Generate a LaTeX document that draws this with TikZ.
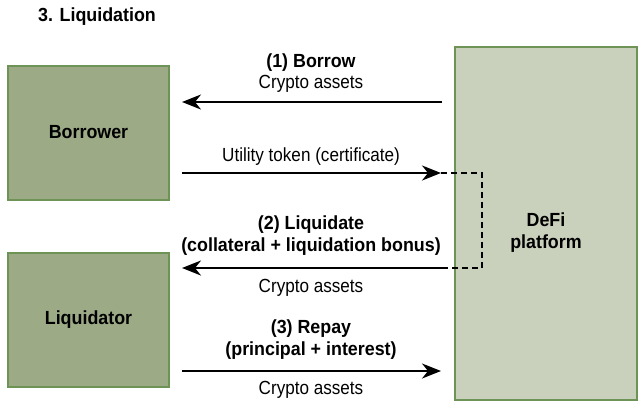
\documentclass[tikz,border=0pt]{standalone}
\usepackage{fontspec}
\setmainfont{Liberation Sans}[FakeStretch=0.9,BoldFeatures={FakeStretch=0.94}]
\usetikzlibrary{arrows.meta}
\definecolor{boxdark}{RGB}{156,170,134}
\definecolor{boxlight}{RGB}{201,209,188}
\definecolor{boxline}{RGB}{109,147,86}
\tikzset{
  party/.style={draw=boxline,line width=1.2pt,fill=boxdark},
  platform/.style={draw=boxline,line width=1.2pt,fill=boxlight},
  flow/.style={line width=2pt,-{Stealth[length=19pt,width=15pt,inset=6pt]}},
  lbl/.style={inner sep=0pt,align=center},
  blbl/.style={lbl,font=\fontsize{19}{22}\selectfont\bfseries},
}
\begin{document}
\begin{tikzpicture}[x=1pt,y=-1pt,font=\fontsize{19}{22}\selectfont]
\useasboundingbox (0,0) rectangle (639,402);

\node[blbl] (title) at (97,17) {3. Liquidation};

% boxes
\path[party] (8,66) rectangle (169,200);
\path[party] (8,253) rectangle (169,387);
\path[platform] (455,47) rectangle (637,400);
\node[blbl] (borrower) at (88.5,132) {Borrower};
\node[blbl] (liquidator) at (88.5,320) {Liquidator};
\node[blbl] (defi) at (546,233) {DeFi\\platform};

% arrow ends
\coordinate (b1) at (182,102);
\coordinate (d1) at (442,102);
\coordinate (b2) at (182,173);
\coordinate (d2) at (441,173);
\coordinate (b3) at (182,268);
\coordinate (d3) at (442,268);
\coordinate (b4) at (182,371);
\coordinate (d4) at (441,371);
\coordinate (k1) at (482,173);
\coordinate (k2) at (482,268);
\coordinate (k3) at (430,268);

\draw[flow] (d1) -- (b1);
\draw[flow] (b2) -- (d2);
\draw[flow] (d3) -- (b3);
\draw[flow] (b4) -- (d4);
\draw[line width=2pt,dash pattern=on 6pt off 4pt] (d2) -- (k1) -- (k2) -- (k3);

% labels
\node[blbl] (t1) at (311,63) {(1) Borrow};
\node[lbl] (c1) at (311,84) {Crypto assets};
\node[lbl] (u1) at (311,157) {Utility token (certificate)};
\node[blbl] (t2) at (311,236) {(2) Liquidate\\(collateral + liquidation bonus)};
\node[lbl] (c2) at (311,288) {Crypto assets};
\node[blbl] (t3) at (311,340) {(3) Repay\\(principal + interest)};
\node[lbl] (c3) at (311,390) {Crypto assets};

\end{tikzpicture}
\end{document}
